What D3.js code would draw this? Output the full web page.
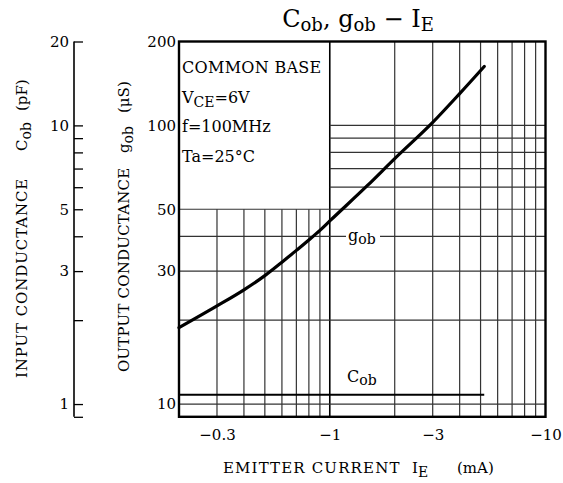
<!DOCTYPE html>
<html><head><meta charset="utf-8">
<script src="https://cdn.jsdelivr.net/npm/d3@7"></script>
<style>
body{margin:0;background:#fff;}
svg{display:block;}
text{font-family:"DejaVu Serif",serif;fill:#000;white-space:pre;}
</style></head>
<body>
<svg id="c" width="563" height="483"></svg>
<script>
// ---- data ----
const currentIE = [0.2, 0.3, 0.4, 0.5, 0.6, 0.7, 0.8, 0.9, 1, 1.5, 2, 3, 4, 5.2];
const gobValues = [18.8, 22.5, 25.7, 28.9, 32.3, 35.6, 38.8, 42.0, 45.4, 61, 76, 102.5, 130, 162.7];
const cobIE = [0.2, 5.2];
const cobValues = [1.08, 1.08];
const xTickValues = [0.3, 1, 3, 10];
const gobTickValues = [10, 30, 50, 100, 200];
const cobTickValues = [20, 10, 9, 8, 7, 6, 5, 4, 3, 2, 1, 0.9];
const cobLabelValues = [20, 10, 5, 3, 1];
const xGridLow = [0.3, 0.4, 0.5, 0.6, 0.7, 0.8, 0.9];
const xGridFull = [1, 2, 3, 4, 5, 6, 7, 8, 9];
const yGridFull = [10, 20, 30, 40, 50];
const yGridRight = [60, 70, 80, 90, 100];

const svg = d3.select("#c");
const x = d3.scaleLog().domain([0.2, 10]).range([179, 545.5]);
const y = d3.scaleLog().domain([9, 200]).range([416.8, 41.5]);
const yc = d3.scaleLog().domain([0.9, 20]).range([416.8, 41.5]);

const grid = svg.append("g").attr("stroke", "#333").attr("stroke-width", 1.2);
grid.selectAll(".vl").data(xGridLow).join("line")
  .attr("x1", d => x(d)).attr("x2", d => x(d))
  .attr("y1", y(9)).attr("y2", y(50));
grid.selectAll(".vf").data(xGridFull).join("line")
  .attr("x1", d => x(d)).attr("x2", d => x(d))
  .attr("y1", y(9)).attr("y2", y(200))
  .attr("stroke", d => d === 1 ? "#000" : null)
  .attr("stroke-width", d => d === 1 ? 1.6 : null);
grid.selectAll(".hf").data(yGridFull).join("line")
  .attr("x1", x(0.2)).attr("x2", x(10))
  .attr("y1", d => y(d)).attr("y2", d => y(d));
grid.selectAll(".hr").data(yGridRight).join("line")
  .attr("x1", x(1)).attr("x2", x(10))
  .attr("y1", d => y(d)).attr("y2", d => y(d));

// frame
svg.append("rect").attr("x", x(0.2)).attr("y", y(200))
  .attr("width", x(10) - x(0.2)).attr("height", y(9) - y(200))
  .attr("fill", "none").attr("stroke", "#000").attr("stroke-width", 2.4);

// data lines
svg.append("path")
  .datum(currentIE.map((d, i) => [d, gobValues[i]]))
  .attr("fill", "none").attr("stroke", "#000").attr("stroke-width", 3.2)
  .attr("stroke-linecap", "round")
  .attr("d", d3.line().x(d => x(d[0])).y(d => y(d[1])).curve(d3.curveMonotoneX));
svg.append("path")
  .datum(cobIE.map((d, i) => [d, cobValues[i]]))
  .attr("fill", "none").attr("stroke", "#000").attr("stroke-width", 2)
  .attr("d", d3.line().x(d => x(d[0])).y(d => yc(d[1])));

// axes
const xAxis = d3.axisBottom(x).tickValues(xTickValues).tickSize(0).tickPadding(13)
  .tickFormat(d => "\u2212" + d);
const gx = svg.append("g").attr("transform", `translate(0,${y(9)})`).call(xAxis);
gx.select(".domain").remove();
gx.selectAll("text").attr("font-size", 15).attr("font-family", "DejaVu Serif");

const gobAxis = d3.axisLeft(y).tickValues(gobTickValues).tickSize(0).tickPadding(3)
  .tickFormat(d3.format("d"));
const gy = svg.append("g").attr("transform", `translate(${x(0.2)},0)`).call(gobAxis);
gy.select(".domain").remove();
gy.selectAll("text").attr("font-size", 15).attr("font-family", "DejaVu Serif");

const cobAxis = d3.axisLeft(yc).tickValues(cobTickValues).tickSize(-9).tickPadding(5)
  .tickFormat(d => cobLabelValues.includes(d) ? String(d) : "");
const gc = svg.append("g").attr("transform", "translate(74,0)").call(cobAxis);
gc.select(".domain").attr("d", `M0,${yc(20)}V${yc(0.9)}`).attr("stroke-width", 1.6);
gc.selectAll("line").attr("stroke-width", 1.3);
gc.selectAll("text").attr("font-size", 15).attr("font-family", "DejaVu Serif");

// title
const title = svg.append("text").attr("x", 358).attr("y", 27).attr("text-anchor", "middle")
  .attr("font-size", 24);
title.append("tspan").text("C");
title.append("tspan").attr("font-size", 18).attr("dy", 4).text("ob");
title.append("tspan").attr("dy", -4).text(", g");
title.append("tspan").attr("font-size", 18).attr("dy", 4).text("ob");
title.append("tspan").attr("dy", -4).text(" \u2212 I");
title.append("tspan").attr("font-size", 18).attr("dy", 4).text("E");

// conditions box
const cond = svg.append("g").attr("font-size", 16);
cond.append("text").attr("x", 182).attr("y", 73).attr("letter-spacing", 0.3).text("COMMON BASE");
const vce = cond.append("text").attr("x", 182).attr("y", 103);
vce.append("tspan").text("V");
vce.append("tspan").attr("font-size", 14).attr("dy", 4).text("CE");
vce.append("tspan").attr("dy", -4).text("=6V");
cond.append("text").attr("x", 182).attr("y", 132).text("f=100MHz");
cond.append("text").attr("x", 182).attr("y", 162).text("Ta=25\u00B0C");

// curve labels
svg.append("rect").attr("x", 346).attr("y", 228).attr("width", 34).attr("height", 18).attr("fill", "#fff");
const gl = svg.append("text").attr("x", 348).attr("y", 241).attr("font-size", 16);
gl.append("tspan").text("g");
gl.append("tspan").attr("font-size", 14).attr("dy", 3).text("ob");
const cl = svg.append("text").attr("x", 347).attr("y", 382).attr("font-size", 16);
cl.append("tspan").text("C");
cl.append("tspan").attr("font-size", 14).attr("dy", 3).text("ob");

// axis titles
const xt = svg.append("text").attr("y", 473).attr("font-size", 15);
xt.append("tspan").attr("x", 223).attr("letter-spacing", 1.15).text("EMITTER CURRENT");
xt.append("tspan").attr("x", 412).text("I");
xt.append("tspan").attr("font-size", 14).attr("dy", 4).text("E");
xt.append("tspan").attr("x", 457).attr("dy", -4).text("(mA)");

const it = svg.append("text").attr("transform", "translate(27,0) rotate(-90)").attr("font-size", 15);
it.append("tspan").attr("x", -378).attr("letter-spacing", 0.9).text("INPUT CONDUCTANCE");
it.append("tspan").attr("x", -151).text("C");
it.append("tspan").attr("font-size", 14).attr("dy", 4).text("ob");
it.append("tspan").attr("x", -111).attr("dy", -4).text("(pF)");

const ot = svg.append("text").attr("transform", "translate(129,0) rotate(-90)").attr("font-size", 15);
ot.append("tspan").attr("x", -372).attr("letter-spacing", 0.2).text("OUTPUT CONDUCTANCE");
ot.append("tspan").attr("x", -153).text("g");
ot.append("tspan").attr("font-size", 14).attr("dy", 4).text("ob");
ot.append("tspan").attr("x", -113).attr("dy", -4).text("(\u03BCS)");
</script>
</body></html>
